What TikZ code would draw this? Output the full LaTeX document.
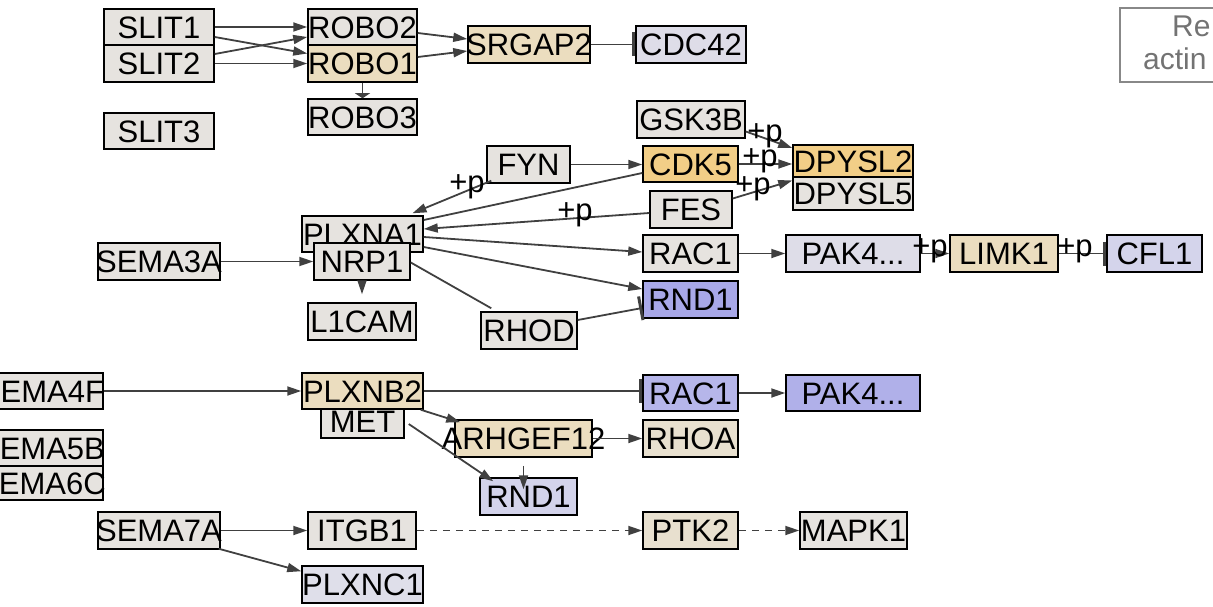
\documentclass[tikz,border=0pt]{standalone}
\usepackage{fontspec}
\setmainfont{Liberation Sans}
\usetikzlibrary{arrows.meta}
\definecolor{cgray}{HTML}{E6E3DF}
\definecolor{ctan}{HTML}{EBDDBF}
\definecolor{corange}{HTML}{F2CE87}
\definecolor{clav}{HTML}{DEDDE8}
\definecolor{clavb}{HTML}{D4D4EB}
\definecolor{crnda}{HTML}{A8A8E8}
\definecolor{crac}{HTML}{B6B6EA}
\definecolor{cpakb}{HTML}{B0B0E9}
\definecolor{clt}{HTML}{E8E0CF}
\definecolor{crndb}{HTML}{D3D3EB}
\definecolor{cplxc}{HTML}{DFDFEA}
\definecolor{edgec}{HTML}{404040}
\definecolor{legc}{HTML}{888888}
\definecolor{legt}{HTML}{737373}
\tikzset{
  gene/.style={draw=black, line width=1.5pt, inner sep=0pt, text height=22.2pt, text depth=0pt, font=\fontsize{31}{31}\selectfont},
  act/.style={draw=edgec, line width=1.8pt, -{Triangle[length=14pt,width=9pt]}},
  inh/.style={draw=edgec, line width=1.8pt, -{Bar[width=24pt,line width=3pt]}},
  plainline/.style={draw=edgec, line width=1.8pt},
  dashline/.style={dash pattern=on 7pt off 6pt},
  plab/.style={font=\fontsize{31}{31}\selectfont, inner sep=0pt},
  legtext/.style={font=\fontsize{30}{30}\selectfont, text=legt, inner sep=0pt},
}
\newcommand\gn[7]{\node[gene, fill=#6, minimum width=#4pt, minimum height=#5pt] (#1) at (#2,#3) {\makebox[0pt]{#7}};}
\begin{document}
\begin{tikzpicture}[x=1pt,y=-1pt]
\useasboundingbox (0,0) rectangle (1213,607);
% nodes
\gn{SLIT1}{159}{27}{110}{36}{cgray}{SLIT1}
\gn{SLIT2}{159}{63.5}{110}{37}{cgray}{SLIT2}
\gn{SLIT3}{159}{131}{110}{36}{cgray}{SLIT3}
\gn{ROBO2}{362.5}{27}{109}{36}{cgray}{ROBO2}
\gn{ROBO1}{362.5}{63.5}{109}{37}{ctan}{ROBO1}
\gn{ROBO3}{362.5}{117}{109}{36}{cgray}{ROBO3}
\gn{SRGAP2}{529}{44.5}{122}{37}{ctan}{SRGAP2}
\gn{CDC42}{691}{44.5}{110}{37}{clav}{CDC42}
\gn{GSK3B}{691}{119.5}{108}{37}{cgray}{GSK3B}
\gn{CDK5}{690.5}{164}{95}{36}{corange}{CDK5}
\gn{FES}{691}{209.5}{82}{37}{cgray}{FES}
\gn{DPYSL2}{853}{161}{120}{32}{corange}{DPYSL2}
\gn{DPYSL5}{853}{193.5}{120}{33}{cgray}{DPYSL5}
\gn{FYN}{528.5}{164.5}{83}{37}{cgray}{FYN}
\gn{PLXNA1}{362.5}{234}{121}{36}{cgray}{PLXNA1}
\gn{NRP1}{362}{261.5}{96}{37}{cgray}{NRP1}
\gn{SEMA3A}{159}{261.5}{122}{37}{cgray}{SEMA3A}
\gn{L1CAM}{362}{321.5}{108}{37}{cgray}{L1CAM}
\gn{RHOD}{529}{330.5}{96}{37}{cgray}{RHOD}
\gn{RACa}{690.5}{253.5}{95}{37}{cgray}{RAC1}
\gn{RNDa}{690.5}{299.5}{95}{37}{crnda}{RND1}
\gn{PAKa}{853}{253.5}{134}{37}{clav}{PAK4...}
\gn{LIMK1}{1004}{253.5}{108}{37}{ctan}{LIMK1}
\gn{CFL1}{1154.5}{253.5}{95}{37}{clavb}{CFL1}
\gn{SEMA4F}{42}{391}{122}{36}{cgray}{SEMA4F}
\gn{MET}{362.5}{421}{83}{34}{cgray}{MET}
\gn{PLXNB2}{362.5}{391}{121}{36}{ctan}{PLXNB2}
\gn{SEMA5B}{42}{448}{122}{36}{cgray}{SEMA5B}
\gn{SEMA6C}{42}{483}{122}{34}{cgray}{SEMA6C}
\gn{RACb}{690.5}{393}{95}{36}{crac}{RAC1}
\gn{PAKb}{853}{393}{134}{36}{cpakb}{PAK4...}
\gn{ARHGEF12}{523.5}{438.5}{137}{37}{ctan}{ARHGEF12}
\gn{RHOA}{690.5}{438.5}{95}{37}{clt}{RHOA}
\gn{RNDb}{528.5}{496.5}{97}{37}{crndb}{RND1}
\gn{SEMA7A}{159}{530.5}{122}{37}{cgray}{SEMA7A}
\gn{ITGB1}{362}{530.5}{108}{37}{cgray}{ITGB1}
\gn{PTK2}{690.5}{530.5}{95}{37}{clt}{PTK2}
\gn{MAPK1}{853.5}{530.5}{107}{37}{cgray}{MAPK1}
\gn{PLXNC1}{362.5}{584.5}{121}{37}{cplxc}{PLXNC1}
% legend
\draw[legc, line width=1.3pt] (1213,8) -| (1120,82) -- (1213,82);
\node[legtext, anchor=base west] (lg1) at (1172,37) {Re};
\node[legtext, anchor=base west] (lg2) at (1143,70) {actin};
% edges
\draw[act] (SLIT1.east) -- (ROBO2.west);
\draw[act] ([yshift=-10pt]SLIT1.east) -- ([yshift=10pt]ROBO1.west);
\draw[act] ([yshift=9.5pt]SLIT2.east) -- ([yshift=-10pt]ROBO2.west);
\draw[act] (SLIT2.east) -- (ROBO1.west);
\draw[act] ([yshift=-6pt]ROBO2.east) -- ([yshift=5.5pt]SRGAP2.west);
\draw[act] ([yshift=6.5pt]ROBO1.east) -- ([yshift=-6.5pt]SRGAP2.west);
\draw[plainline, -{Triangle[length=5pt,width=15pt]}] (ROBO1.south) -- (ROBO3.north);
\draw[inh] (SRGAP2.east) -- (CDC42.west);
\draw[act] ([yshift=-12pt]GSK3B.east) -- ([yshift=13pt]DPYSL2.west);
\draw[act] (CDK5.east) -- (CDK5.east -| DPYSL2.west);
\draw[act] ([yshift=11pt]FES.east) -- ([yshift=13pt]DPYSL5.west);
\draw[act] (FYN.east) -- (FYN.east -| CDK5.west);
\draw[act] ([xshift=5pt,yshift=3pt]FYN.south west) -- ([xshift=50pt,yshift=2pt]PLXNA1.north);
\draw[plainline] ([yshift=-9pt]CDK5.west) -- ([yshift=14pt]PLXNA1.east);
\draw[act] ([yshift=-3.5pt]FES.west) -- ([yshift=5pt]PLXNA1.east);
\draw[act] ([yshift=-3pt]PLXNA1.east) -- ([yshift=1.5pt]RACa.west);
\draw[act] ([yshift=-13pt]PLXNA1.east) -- ([yshift=10.5pt]RNDa.west);
\draw[plainline] ([yshift=-1pt]NRP1.east) -- ([xshift=11pt,yshift=3pt]RHOD.north west);
\draw[inh] ([yshift=10.5pt]RHOD.east) -- ([yshift=-8.5pt]RNDa.west);
\draw[act] (SEMA3A.east) -- (NRP1.west);
\draw[act] (NRP1.south) -- ([yshift=8pt]L1CAM.north);
\draw[act] (RACa.east) -- (PAKa.west);
\draw[act] (PAKa.east) -- (LIMK1.west);
\draw[inh] (LIMK1.east) -- (CFL1.west);
\draw[act] (SEMA4F.east) -- (PLXNB2.west);
\draw[inh] (PLXNB2.east) -- (PLXNB2.east -| RACb.west);
\draw[act] (RACb.east) -- (PAKb.west);
\draw[act] ([xshift=-3pt]PLXNB2.south east) -- ([xshift=6pt,yshift=-3pt]ARHGEF12.north west);
\draw[act] ([xshift=4pt,yshift=-3pt]MET.east) -- ([xshift=14pt,yshift=-4pt]RNDb.north west);
\draw[act] (ARHGEF12.east) -- (RHOA.west);
\draw[act] ([yshift=-8pt]ARHGEF12.south) -- ([yshift=-12pt]ARHGEF12.south |- RNDb.north);
\draw[act] (SEMA7A.east) -- (ITGB1.west);
\draw[act] ([xshift=-2pt,yshift=1pt]SEMA7A.south east) -- ([yshift=-6pt]PLXNC1.north west);
\draw[act, dashline] (ITGB1.east) -- (PTK2.west);
\draw[act, dashline] (PTK2.east) -- (MAPK1.west);
% labels
\node[plab] (p1) at (765,136) {+p};
\node[plab] (p2) at (760,161) {+p};
\node[plab] (p3) at (753,189) {+p};
\node[plab] (p4) at (467,187) {+p};
\node[plab] (p5) at (575,215) {+p};
\node[plab] (p6) at (930,251) {+p};
\node[plab] (p7) at (1075,251) {+p};
\end{tikzpicture}
\end{document}
